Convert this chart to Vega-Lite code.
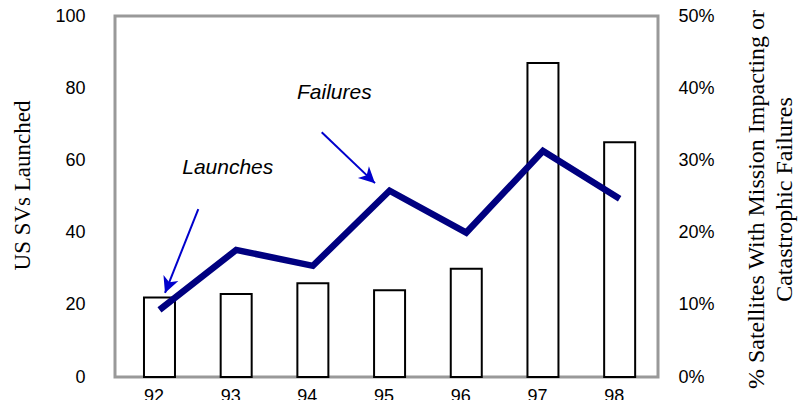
{
  "$schema": "https://vega.github.io/schema/vega-lite/v6.json",
  "width": 543,
  "height": 361,
  "autosize": {"type": "none"},
  "padding": {"left": 115, "top": 16, "right": 141, "bottom": 23},
  "background": "white",
  "config": {
    "view": {"stroke": "#999999", "strokeWidth": 3},
    "font": "Liberation Sans",
    "axis": {
      "domain": false,
      "ticks": false,
      "grid": false,
      "labelFont": "Liberation Sans",
      "labelFontSize": 18,
      "labelColor": "black",
      "labelFlush": false,
      "labelOverlap": false,
      "titleFont": "Liberation Serif",
      "titleFontWeight": "normal",
      "titleColor": "black"
    },
    "axisX": {"labelOffset": -6}
  },
  "datasets": {
    "yearly": [
      {"year": 92, "launches": 22, "failure_pct": 0.093},
      {"year": 93, "launches": 23, "failure_pct": 0.176},
      {"year": 94, "launches": 26, "failure_pct": 0.154},
      {"year": 95, "launches": 24, "failure_pct": 0.258},
      {"year": 96, "launches": 30, "failure_pct": 0.200},
      {"year": 97, "launches": 87, "failure_pct": 0.313},
      {"year": 98, "launches": 65, "failure_pct": 0.247}
    ],
    "callouts": [
      {"label": "Launches", "text_x": 92.89, "text_y": 57.8, "from_x": 92.506, "from_y": 46.5, "to_x": 92.072, "to_y": 23.3},
      {"label": "Failures", "text_x": 94.28, "text_y": 78.8, "from_x": 94.115, "from_y": 67.8, "to_x": 94.81, "to_y": 53.7}
    ]
  },
  "layer": [
    {
      "layer": [
        {
          "data": {"name": "yearly"},
          "mark": {"type": "bar", "size": 31, "fill": "white", "stroke": "black", "strokeWidth": 2},
          "encoding": {
            "x": {
              "field": "year",
              "type": "quantitative",
              "title": null,
              "scale": {"domain": [91.42, 98.5], "nice": false, "zero": false, "padding": 0},
              "axis": {"values": [92, 93, 94, 95, 96, 97, 98], "format": "d", "labelPadding": 10}
            },
            "y": {
              "field": "launches",
              "type": "quantitative",
              "title": "US SVs Launched",
              "scale": {"domain": [0, 100], "nice": false, "padding": 0},
              "axis": {
                "values": [0, 20, 40, 60, 80, 100],
                "labelPadding": 30,
                "titleFontSize": 23,
                "titleAngle": 270,
                "titleAlign": "center",
                "titleBaseline": "middle",
                "titleX": -93,
                "titleY": 169
              }
            }
          }
        },
        {
          "data": {"name": "callouts"},
          "mark": {"type": "rule", "color": "#0000CC", "strokeWidth": 2},
          "encoding": {
            "x": {"field": "from_x", "type": "quantitative"},
            "y": {"field": "from_y", "type": "quantitative"},
            "x2": {"field": "to_x"},
            "y2": {"field": "to_y"}
          }
        },
        {
          "data": {"name": "callouts"},
          "transform": [{"filter": "datum.label === 'Launches'"}],
          "mark": {"type": "point", "shape": "M0,0L0.8,1.6L0,1.15L-0.8,1.6Z", "size": 400, "angle": 201.6, "filled": true, "color": "#0000CC", "opacity": 1},
          "encoding": {
            "x": {"field": "to_x", "type": "quantitative"},
            "y": {"field": "to_y", "type": "quantitative"}
          }
        },
        {
          "data": {"name": "callouts"},
          "transform": [{"filter": "datum.label === 'Failures'"}],
          "mark": {"type": "point", "shape": "M0,0L0.8,1.6L0,1.15L-0.8,1.6Z", "size": 400, "angle": 133.6, "filled": true, "color": "#0000CC", "opacity": 1},
          "encoding": {
            "x": {"field": "to_x", "type": "quantitative"},
            "y": {"field": "to_y", "type": "quantitative"}
          }
        },
        {
          "data": {"name": "callouts"},
          "mark": {"type": "text", "font": "Liberation Sans", "fontSize": 21, "fontStyle": "italic", "color": "black", "align": "center", "baseline": "middle"},
          "encoding": {
            "x": {"field": "text_x", "type": "quantitative"},
            "y": {"field": "text_y", "type": "quantitative"},
            "text": {"field": "label"}
          }
        }
      ]
    },
    {
      "data": {"name": "yearly"},
      "mark": {"type": "line", "color": "#000080", "strokeWidth": 6.5, "strokeJoin": "miter", "strokeCap": "butt"},
      "encoding": {
        "x": {"field": "year", "type": "quantitative"},
        "y": {
          "field": "failure_pct",
          "type": "quantitative",
          "title": ["% Satellites With Mission Impacting or", "Catastrophic Failures"],
          "scale": {"domain": [0, 0.5], "nice": false},
          "axis": {
            "orient": "right",
            "values": [0, 0.1, 0.2, 0.3, 0.4, 0.5],
            "format": ".0%",
            "labelPadding": 20,
            "titleFontSize": 24,
            "titleLineHeight": 28,
            "titleAngle": 270,
            "titleAlign": "center",
            "titleBaseline": "middle",
            "titleX": 98,
            "titleY": 183
          }
        }
      }
    }
  ],
  "resolve": {"scale": {"y": "independent"}}
}
